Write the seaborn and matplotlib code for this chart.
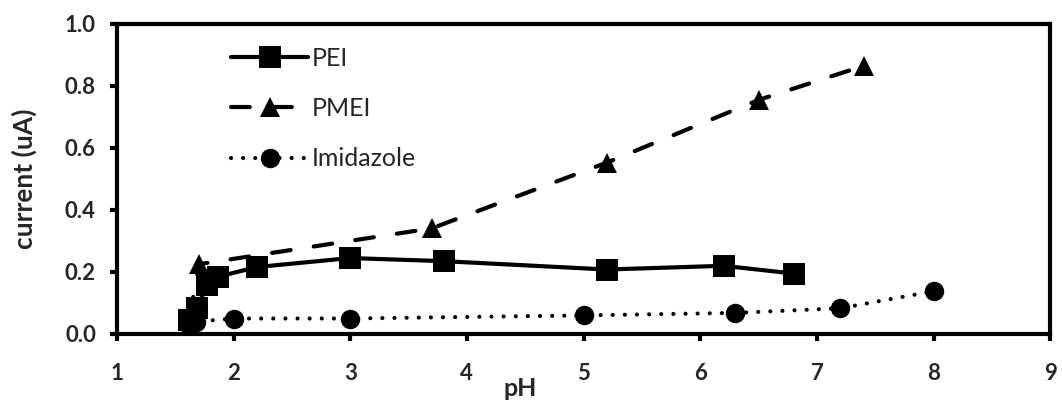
import matplotlib
matplotlib.use("Agg")
import matplotlib.pyplot as plt
import seaborn as sns
import pandas as pd

# pH vs. current for three electrolytes
pei_ph = [1.62, 1.69, 1.77, 1.87, 2.2, 3.0, 3.8, 5.2, 6.2, 6.8]
pei_cur = [0.045, 0.085, 0.157, 0.185, 0.216, 0.245, 0.235, 0.208, 0.220, 0.195]

pmei_ph = [1.63, 1.7, 3.7, 5.2, 6.5, 7.4]
pmei_cur = [0.06, 0.225, 0.341, 0.553, 0.755, 0.865]

imid_ph = [1.62, 1.68, 2.0, 3.0, 5.0, 6.3, 7.2, 8.0]
imid_cur = [0.03, 0.04, 0.05, 0.05, 0.06, 0.068, 0.083, 0.138]

x_ticks = [1, 2, 3, 4, 5, 6, 7, 8, 9]
y_ticks = [0.0, 0.2, 0.4, 0.6, 0.8, 1.0]

sns.set_theme(style="white")
plt.rcParams["font.family"] = ["Lato", "DejaVu Sans"]

fig = plt.figure(figsize=(10.62, 4.0), dpi=100)
ax = fig.add_axes([0.110, 0.165, 0.879, 0.775])

# name, x, y, marker, marker size, line style, line width
series = [
    ("PEI", pei_ph, pei_cur, "s", 16, "-", 3.0),
    ("PMEI", pmei_ph, pmei_cur, "^", 14, (0, (4.5, 5.6)), 3.0),
    ("Imidazole", imid_ph, imid_cur, "o", 14, (0, (0.01, 2.9)), 3.0),
]

for name, xs, ys, mk, ms, ls, lw in series:
    df = pd.DataFrame({"pH": xs, "current": ys})
    sns.lineplot(data=df, x="pH", y="current", ax=ax, color="black",
                 estimator=None, sort=False, marker=mk, markersize=ms,
                 markeredgewidth=0, linestyle=ls, linewidth=lw,
                 dash_capstyle="round", solid_capstyle="round", label=name)

ax.set_xlim(1, 9)
ax.set_ylim(0, 1.0)
ax.set_xticks(x_ticks)
ax.set_yticks(y_ticks)
ax.set_xticklabels([str(t) for t in x_ticks], fontweight="bold", fontsize=16)
ax.set_yticklabels([f"{t:.1f}" for t in y_ticks], fontweight="bold", fontsize=16)

for side in ["left", "bottom", "right", "top"]:
    ax.spines[side].set_visible(True)
    ax.spines[side].set_color("black")
    ax.spines[side].set_linewidth(3.0)

ax.tick_params(axis="both", which="major", direction="out", length=5,
               width=3.0, color="black", bottom=True, left=True,
               top=False, right=False)
ax.tick_params(axis="x", pad=16)
ax.tick_params(axis="y", pad=10)

ax.set_xlabel("pH", fontweight="bold", fontsize=18)
ax.xaxis.set_label_coords(0.432, -0.14)
ax.set_ylabel("current (uA)", fontweight="bold", fontsize=19)
ax.yaxis.set_label_coords(-0.085, 0.5)

ax.legend(loc="upper left", bbox_to_anchor=(0.098, 1.0), frameon=False,
          fontsize=18, handlelength=3.1, handletextpad=0.15,
          labelspacing=1.1)

fig.savefig("out.png", dpi=100, facecolor="white")
